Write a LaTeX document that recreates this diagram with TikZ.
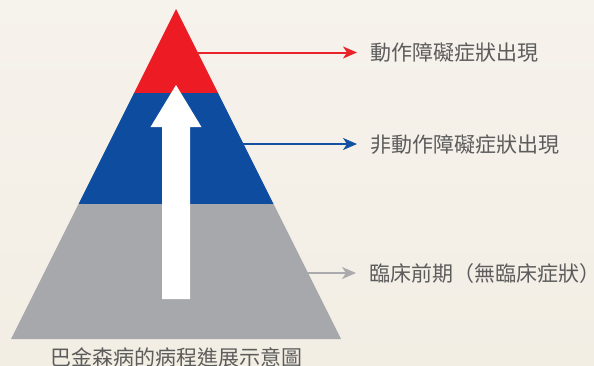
\documentclass[tikz,border=0pt]{standalone}
\usepackage{fontspec}
\setmainfont{Noto Sans CJK TC}
\usetikzlibrary{arrows.meta}
\definecolor{bgtop}{HTML}{F6F2EC}
\definecolor{bgbot}{HTML}{F3EEE4}
\definecolor{pred}{HTML}{ED1C24}
\definecolor{pblue}{HTML}{0D4C9F}
\definecolor{pgray}{HTML}{A7A8AB}
\definecolor{lred}{HTML}{E8232A}
\definecolor{lblue}{HTML}{1550A0}
\definecolor{lgray}{HTML}{ABABAD}
\definecolor{txt}{HTML}{5C5C5C}
\tikzset{
  lbl/.style={anchor=base west, inner sep=0pt, text=txt, font=\fontsize{21pt}{21pt}\selectfont},
  captionlbl/.style={anchor=base, inner sep=0pt, text=txt, font=\fontsize{21pt}{21pt}\selectfont},
  conn/.style={shorten >=13pt, -{Stealth[length=14pt,width=12pt,inset=4pt]}},
}
\begin{document}
\begin{tikzpicture}[x=1pt,y=-1pt]
\useasboundingbox (0,0) rectangle (594,365);
\shade[top color=bgtop, bottom color=bgbot] (0,0) rectangle (594,365);
% pyramid layers
\fill[pred] (176,9) -- (218,93) -- (134,93) -- cycle;
\fill[pblue] (134,93) -- (218,93) -- (273.5,204) -- (78.5,204) -- cycle;
\fill[pgray] (78.5,204) -- (273.5,204) -- (341,339) -- (11,339) -- cycle;
% white arrow
\fill[white] (162,299) -- (190,299) -- (190,127) -- (201.5,127) -- (176,85) -- (150.5,127) -- (162,127) -- cycle;
% labels
\node[lbl] (t1) at (370,60.5) {動作障礙症狀出現};
\node[lbl] (t2) at (370,152) {非動作障礙症狀出現};
\node[lbl] (t3) at (369,281) {臨床前期（無臨床症狀）};
\node[captionlbl] (captxt) at (176,365) {巴金森病的病程進展示意圖};
% connectors
\coordinate (r0) at (196,52.5);
\coordinate (b0) at (242.5,144);
\coordinate (g0) at (307.5,273);
\draw[conn, lred, line width=2pt] (r0) -- (r0 -| t1.west);
\draw[conn, lblue, line width=2pt] (b0) -- (b0 -| t2.west);
\draw[conn, lgray, line width=1.6pt] (g0) -- (g0 -| t3.west);
\end{tikzpicture}
\end{document}
